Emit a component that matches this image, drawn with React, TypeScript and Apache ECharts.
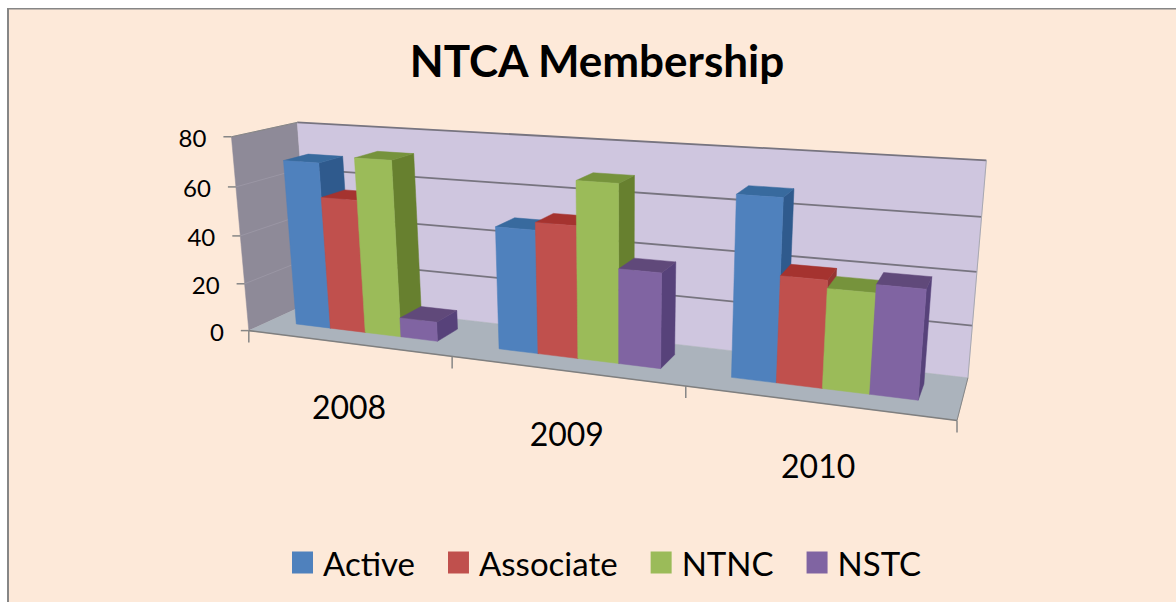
import React, { useEffect, useRef } from "react";
import * as echarts from "echarts";

const categories = ["2008", "2009", "2010"];
const yTicks = [0, 20, 40, 60, 80];
const active = [69, 49, 68];
const associate = [55, 52, 40];
const ntnc = [72, 69, 37];
const nstc = [8, 37, 40];

const seriesInfo = [
  { name: "Active", values: active, front: "#4F81BD", top: "#386A9E", side: "#2F5A8D" },
  { name: "Associate", values: associate, front: "#C0504D", top: "#A5332F", side: "#953532" },
  { name: "NTNC", values: ntnc, front: "#9BBB59", top: "#76933C", side: "#67802F" },
  { name: "NSTC", values: nstc, front: "#8064A2", top: "#60497A", side: "#57427A" },
];

const FONT = "Lato, Carlito, 'Open Sans', sans-serif";
const GAP = 0.145;
const U_SHIFT = -0.007;
const Z_FRONT = 0.33;
const Z_BACK = 0.72;

// Calibration of the 3D camera: world (category, value, depth) against picture position.
const calib: number[][] = [
  [0, 0, 0, 249, 330], [1, 0, 0, 452, 356], [2, 0, 0, 686, 386], [3, 0, 0, 957, 421],
  [0, 0, 1, 311, 303], [3, 0, 1, 968, 377], [0, 80, 1, 297, 122], [3, 80, 1, 986, 160],
  [0, 80, 0, 232, 137], [0, 60, 0, 236, 187], [0, 40, 0, 240, 236], [0, 20, 0, 244, 284],
  [3, 20, 1, 972, 326], [3, 40, 1, 977, 272], [3, 60, 1, 982, 217],
];

function solveCamera(): number[] {
  const rows: number[][] = [];
  const rhs: number[] = [];
  for (const [u, val, z, px, py] of calib) {
    const v = val / 80, x = px / 1000, y = py / 1000;
    rows.push([1, u, v, z, 0, 0, 0, 0, -x * u, -x * v, -x * z]); rhs.push(x);
    rows.push([0, 0, 0, 0, 1, u, v, z, -y * u, -y * v, -y * z]); rhs.push(y);
  }
  const n = 11;
  const m: number[][] = [];
  for (let i = 0; i < n; i++) {
    const r: number[] = [];
    for (let j = 0; j < n; j++) {
      let s = i === j ? 1e-9 : 0;
      rows.forEach((row) => { s += row[i] * row[j]; });
      r.push(s);
    }
    let b = 0;
    rows.forEach((row, k) => { b += row[i] * rhs[k]; });
    r.push(b);
    m.push(r);
  }
  for (let i = 0; i < n; i++) {
    let p = i;
    for (let k = i + 1; k < n; k++) if (Math.abs(m[k][i]) > Math.abs(m[p][i])) p = k;
    [m[i], m[p]] = [m[p], m[i]];
    for (let k = 0; k < n; k++) {
      if (k === i) continue;
      const f = m[k][i] / m[i][i];
      for (let j = i; j <= n; j++) m[k][j] -= f * m[i][j];
    }
  }
  return m.map((r, i) => r[n] / r[i]);
}
const cam = solveCamera();
function project(u: number, val: number, z: number): number[] {
  const v = val / 80;
  const d = 1 + cam[8] * u + cam[9] * v + cam[10] * z;
  return [
    (1000 * (cam[0] + cam[1] * u + cam[2] * v + cam[3] * z)) / d,
    (1000 * (cam[4] + cam[5] * u + cam[6] * v + cam[7] * z)) / d,
  ];
}

const poly = (points: number[][], fill: string) => ({
  type: "polygon", shape: { points }, style: { fill, stroke: fill, lineWidth: 0.5 },
});
const seg = (a: number[], b: number[], stroke: string, lineWidth = 1.5) => ({
  type: "line", shape: { x1: a[0], y1: a[1], x2: b[0], y2: b[1] }, style: { stroke, lineWidth },
});
const label = (text: string, x: number, y: number, size: number, align: string) => ({
  type: "text",
  style: { text, x, y, fill: "#000", font: `${size}px ${FONT}`, align, verticalAlign: "middle" },
});

function renderFrame() {
  const n = categories.length;
  const c: any[] = [];
  c.push(poly([project(0, 0, 0), project(0, 80, 0), project(0, 80, 1), project(0, 0, 1)], "#8E8A98"));
  c.push(poly([project(0, 0, 1), project(0, 80, 1), project(n, 80, 1), project(n, 0, 1)], "#CFC6DF"));
  c.push(poly([project(0, 0, 0), project(0, 0, 1), project(n, 0, 1), project(n, 0, 0)], "#ABB3BC"));
  yTicks.forEach((t) => {
    if (t > 0) {
      c.push(seg(project(0, t, 1), project(n, t, 1), "#77747F", 1.8));
      if (t < 80) c.push(seg(project(0, t, 0), project(0, t, 1), "#9A96A4", 1));
    }
    const p = project(0, t, 0);
    c.push(seg([p[0] - 8, p[1]], p, "#868686", 1.5));
    c.push(label(String(t), p[0] - 25, p[1] + 1, 24, "right"));
  });
  c.push(seg(project(0, 80, 0), project(0, 80, 1), "#868686", 1));
  c.push(seg(project(n, 80, 1), project(n, 0, 1), "#A8A8B0", 1));
  c.push(seg(project(n, 0, 1), project(n, 0, 0), "#868686", 1));
  c.push(seg(project(0, 0, 0), project(n, 0, 0), "#7F7F7F", 1.6));
  for (let i = 0; i <= n; i++) {
    const p = project(i, 0, 0);
    c.push(seg(p, [p[0], p[1] + 12], "#868686", 1.5));
  }
  categories.forEach((name, i) => {
    const p = project(i + 0.5, 0, 0);
    c.push(label(name, p[0] + 2, p[1] + 63, 32, "center"));
  });
  return { type: "group", children: c };
}

function renderBar(idx: number, info: (typeof seriesInfo)[number]) {
  return (_: any, api: any) => {
    const o = api.coord([api.value(0), 0]);
    const t = api.coord([api.value(0), api.value(1)]);
    const center = o[0] / 100; // hidden x axis: 100 px per category
    const val = o[1] - t[1]; // hidden y axis: 1 px per unit
    const w = (1 - 2 * GAP) / seriesInfo.length;
    const u0 = center - 0.5 + GAP + U_SHIFT + idx * w;
    const u1 = u0 + w;
    const a = (u: number, y: number, z: number) => project(u, y, z);
    return {
      type: "group",
      children: [
        poly([a(u1, 0, Z_FRONT), a(u1, val, Z_FRONT), a(u1, val, Z_BACK), a(u1, 0, Z_BACK)], info.side),
        poly([a(u0, val, Z_FRONT), a(u0, val, Z_BACK), a(u1, val, Z_BACK), a(u1, val, Z_FRONT)], info.top),
        poly([a(u0, 0, Z_FRONT), a(u0, val, Z_FRONT), a(u1, val, Z_FRONT), a(u1, 0, Z_FRONT)], info.front),
      ],
    };
  };
}

export default function App() {
  const ref = useRef<HTMLDivElement>(null);
  useEffect(() => {
    document.body.style.margin = "0";
    document.body.style.background = "#fff";
    const chart = echarts.init(ref.current!, null, { renderer: "svg" });
    chart.setOption({
      animation: false,
      color: seriesInfo.map((s) => s.front),
      graphic: [
        { type: "rect", z: -10, shape: { x: 8, y: 9, width: 1168, height: 593 }, style: { fill: "#FDE9D9", lineWidth: 0 } },
        { type: "rect", z: -9, shape: { x: 7, y: 8, width: 2, height: 594 }, style: { fill: "#868686" } },
        { type: "rect", z: -9, shape: { x: 7, y: 8, width: 1169, height: 1.6 }, style: { fill: "#868686" } },
      ],
      title: {
        text: "NTCA Membership", left: 592, top: 33, textAlign: "center",
        textStyle: { fontFamily: FONT, fontWeight: 700, fontSize: 44, color: "#000" },
      },
      legend: {
        data: seriesInfo.map((s) => ({ name: s.name, itemStyle: { color: s.front } })),
        left: 287, top: 541, itemWidth: 21, itemHeight: 22, itemGap: 33, icon: "rect",
        textStyle: { fontFamily: FONT, fontSize: 33, color: "#000", padding: [0, 0, 0, 5] },
        selectedMode: false,
      },
      grid: { left: 0, top: 0, width: 100 * categories.length, height: 80, show: false, containLabel: false },
      xAxis: { type: "category", data: categories, show: false },
      yAxis: { type: "value", min: 0, max: 80, interval: 20, show: false },
      series: [
        { type: "custom", name: "frame", silent: true, data: [[0, 0]], renderItem: renderFrame, z: 1 },
        ...seriesInfo.map((s, i) => ({
          type: "custom", name: s.name, silent: true, z: 2 + i,
          data: s.values.map((v, k) => [k, v]),
          encode: { x: 0, y: 1 },
          renderItem: renderBar(i, s),
        })),
      ],
    });
    return () => chart.dispose();
  }, []);
  return <div ref={ref} style={{ width: 1176, height: 602 }} />;
}
